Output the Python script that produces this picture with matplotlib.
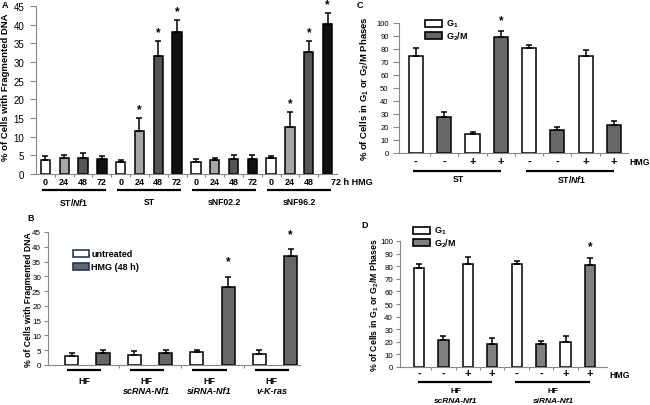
import numpy as np
import matplotlib
matplotlib.use("Agg")
import matplotlib.pyplot as plt
from matplotlib.patches import Rectangle

plt.rcParams["font.family"] = ["Liberation Sans", "DejaVu Sans"]
plt.rcParams["font.weight"] = "bold"
plt.rcParams["axes.labelweight"] = "bold"
plt.rcParams["mathtext.fontset"] = "custom"
plt.rcParams["mathtext.rm"] = "Liberation Sans:bold"
plt.rcParams["mathtext.it"] = "Liberation Sans:bold:italic"
plt.rcParams["mathtext.bf"] = "Liberation Sans:bold"

# ---- Panel A data ----
a_groups = ["ST/$\\mathit{Nf1}$", "ST", "sNF02.2", "sNF96.2"]
a_hours = ["0", "24", "48", "72"]
a_vals = [3.8, 4.3, 4.3, 3.9, 3.2, 11.4, 31.6, 38.1,
          3.2, 3.7, 3.9, 3.9, 4.2, 12.6, 32.8, 40.1]
a_errs = [1.0, 0.8, 1.3, 0.8, 0.5, 3.5, 4.0, 3.1,
          0.9, 0.6, 1.2, 1.2, 0.6, 3.9, 2.8, 2.9]
a_sig = [5, 6, 7, 13, 14, 15]

# ---- Panel B data ----
b_groups = [("HF", ""), ("HF", "scRNA-Nf1"), ("HF", "siRNA-Nf1"), ("HF", "v-K-ras")]
b_untreated = [3.1, 3.4, 4.3, 3.6]
b_untreated_err = [0.8, 1.4, 0.9, 1.5]
b_hmg = [4.0, 4.2, 26.4, 36.8]
b_hmg_err = [1.1, 0.9, 3.4, 2.3]
b_sig = [2, 3]

# ---- Panel C data ----
c_groups = ["ST", "ST/$\\mathit{Nf1}$"]
c_hmg = ["-", "-", "+", "+", "-", "-", "+", "+"]
c_vals = [74.9, 27.7, 14.6, 89.5, 80.5, 17.9, 74.4, 21.3]
c_errs = [6.1, 3.6, 1.3, 4.1, 2.6, 1.8, 5.1, 3.6]
c_sig = [3]

# ---- Panel D data ----
d_groups = [("HF", "scRNA-Nf1"), ("HF", "siRNA-Nf1")]
d_hmg = ["-", "-", "+", "+", "-", "-", "+", "+"]
d_vals = [78.7, 21.6, 82.1, 18.4, 82.1, 18.2, 19.5, 81.1]
d_errs = [2.9, 3.4, 5.0, 4.8, 2.4, 2.1, 5.0, 5.2]
d_sig = [7]

W, H = 650, 406
fig = plt.figure(figsize=(W / 100, H / 100), dpi=100)


def ax_at(x0, x1, ytop, ybot):
    return fig.add_axes([x0 / W, 1 - ybot / H, (x1 - x0) / W, (ybot - ytop) / H])


def fig_text(x, y, s, **kw):
    fig.text(x / W, 1 - y / H, s, **kw)


def fig_box(x, y, w, h, fc, ec):
    fig.patches.append(Rectangle((x / W, 1 - (y + h) / H), w / W, h / H,
                                 transform=fig.transFigure, fc=fc, ec=ec, lw=1.2))


def style(ax, ymax, ystep, ysize, ylen, ypad):
    for s in ["top", "right"]:
        ax.spines[s].set_visible(False)
    for s in ["left", "bottom"]:
        ax.spines[s].set_color("#888888")
        ax.spines[s].set_linewidth(0.8)
    ax.set_ylim(0, ymax)
    ax.set_yticks(np.arange(0, ymax + 1, ystep))
    ax.tick_params(axis="y", length=ylen, width=0.8, color="#888888", labelsize=ysize, pad=ypad)
    ax.tick_params(axis="x", which="major", length=0, pad=2)
    ax.tick_params(axis="x", which="minor", length=2.5, width=0.8, color="#888888")
    for lab in ax.get_yticklabels():
        lab.set_fontweight("normal")


def bars(ax, x, vals, errs, colors, width):
    ax.bar(x, vals, width, color=colors, edgecolor="black", linewidth=1.1, zorder=2)
    ax.errorbar(x, vals, yerr=[np.zeros(len(vals)), errs], fmt="none",
                ecolor="black", elinewidth=1.1, capsize=2.5, capthick=1.1, zorder=3)


def underline(ax, x0, x1, y):
    ax.plot([x0, x1], [y, y], color="black", lw=1.6, transform=ax.get_xaxis_transform(),
            clip_on=False, solid_capstyle="butt")


# ---------------- Panel A ----------------
axA = ax_at(36, 337, 7, 175)
xa = np.arange(len(a_vals))
a_colors = ["white", "#a6a6a6", "#555555", "#111111"] * 4
bars(axA, xa, a_vals, a_errs, a_colors, 0.5)
style(axA, 45, 5, 7, 4, 4.5)
axA.set_xlim(-0.5, 15.5)
axA.set_xticks(xa)
axA.set_xticklabels(a_hours * 3 + a_hours[:3] + [""], fontsize=6.5, fontweight="bold")
axA.set_xticks(np.arange(0.5, 15, 1), minor=True)
axA.text(15.2, -0.047, "72 h HMG", transform=axA.get_xaxis_transform(),
         ha="left", va="center", fontsize=6.5)
for i in a_sig:
    axA.text(i, a_vals[i] + a_errs[i] + 2.5, "*", ha="center", va="center", fontsize=8.5)
for g, name in enumerate(a_groups):
    underline(axA, 4 * g - 0.2, 4 * g + 3.2, -0.095)
    axA.text(4 * g + 1.5, -0.165, name, transform=axA.get_xaxis_transform(),
             ha="center", va="center", fontsize=6.2)
axA.set_ylabel("% of Cells with Fragmented DNA", fontsize=6.8)
axA.yaxis.set_label_coords(-0.088, 0.52)

# ---------------- Panel B ----------------
axB = ax_at(48, 300, 233, 366)
xb = np.arange(4) * 2
bars(axB, np.concatenate([xb, xb + 1]), b_untreated + b_hmg, b_untreated_err + b_hmg_err,
     ["white"] * 4 + ["#666666"] * 4, 0.42)
style(axB, 45, 5, 5.8, 3, 2)
axB.set_xlim(-0.76, 7.3)
axB.set_xticks([])
axB.set_xticks([1.5, 3.5, 5.5], minor=True)
for i in b_sig:
    axB.text(2 * i + 1, b_hmg[i] + b_hmg_err[i] + 5.2, "*", ha="center", va="center", fontsize=8.5)
for g, (l1, l2) in enumerate(b_groups):
    underline(axB, 2 * g - 0.15, 2 * g + 0.95, -0.035)
    axB.text(2 * g + 0.4, -0.118, l1, transform=axB.get_xaxis_transform(),
             ha="center", va="center", fontsize=6.5)
    if l2:
        axB.text(2 * g + 0.4, -0.195, l2, transform=axB.get_xaxis_transform(),
                 ha="center", va="center", fontsize=6.5, style="italic")
axB.set_ylabel("% of Cells with Fragmented DNA", fontsize=6.2)
axB.yaxis.set_label_coords(-0.06, 0.5)
fig_box(73, 251, 16, 7, "white", "#1f3864")
fig_box(73, 264, 16, 7, "#666666", "#1f3864")
fig_text(91, 254.5, "untreated", fontsize=6.5, va="center")
fig_text(91, 267.5, "HMG (48 h)", fontsize=6.5, va="center")

# ---------------- Panel C ----------------
axC = ax_at(399, 628, 24, 154)
xc = np.arange(8)
cd_colors = ["white", "#666666", "white", "#666666"] * 2
bars(axC, xc, c_vals, c_errs, cd_colors, 0.5)
style(axC, 100, 10, 5.5, 4, 3.5)
axC.set_xlim(-0.6, 7.5)
axC.set_xticks(xc)
axC.set_xticklabels(c_hmg, fontsize=8, fontweight="bold")
axC.set_xticks(np.arange(0.5, 7.5, 1), minor=True)
axC.text(7.55, -0.069, "HMG", transform=axC.get_xaxis_transform(),
         ha="left", va="center", fontsize=6.3)
for i in c_sig:
    axC.text(i, c_vals[i] + c_errs[i] + 8.5, "*", ha="center", va="center", fontsize=8.5)
for g, name in enumerate(c_groups):
    underline(axC, 4 * g - 0.1, 4 * g + 3.0, -0.14)
    axC.text(4 * g + 1.5, -0.2, name, transform=axC.get_xaxis_transform(),
             ha="center", va="center", fontsize=6.3)
axC.set_ylabel("% of Cells in G$_1$ or G$_2$/M Phases", fontsize=6.8)
axC.yaxis.set_label_coords(-0.122, 0.5)
fig_box(425, 21, 17, 7, "white", "black")
fig_box(425, 33, 17, 7, "#666666", "black")
fig_text(446, 24, "G$_1$", fontsize=6.5, va="center")
fig_text(446, 36.5, "G$_2$/M", fontsize=6.5, va="center")

# ---------------- Panel D ----------------
axD = ax_at(400, 607, 242, 368)
xd = np.arange(8)
dd_colors = ["white", "#808080", "white", "#808080"] * 2
bars(axD, xd, d_vals, d_errs, dd_colors, 0.42)
style(axD, 100, 10, 5.7, 3, 2)
axD.set_xlim(-0.78, 7.7)
axD.set_xticks(xd)
axD.set_xticklabels(d_hmg, fontsize=8, fontweight="bold")
axD.tick_params(axis="x", which="major", pad=0.5)
axD.set_xticks(np.arange(0.5, 7.5, 1), minor=True)
axD.text(7.8, -0.056, "HMG", transform=axD.get_xaxis_transform(),
         ha="left", va="center", fontsize=6.3)
for i in d_sig:
    axD.text(i, d_vals[i] + d_errs[i] + 10, "*", ha="center", va="center", fontsize=8.5)
for g, (l1, l2) in enumerate(d_groups):
    underline(axD, 4 * g - 0.05, 4 * g + 3.0, -0.122)
    axD.text(4 * g + 1.5, -0.19, l1, transform=axD.get_xaxis_transform(),
             ha="center", va="center", fontsize=6)
    axD.text(4 * g + 1.5, -0.265, l2, transform=axD.get_xaxis_transform(),
             ha="center", va="center", fontsize=6, style="italic")
axD.set_ylabel("% of Cells in G$_1$ or G$_2$/M Phases", fontsize=6.3)
axD.yaxis.set_label_coords(-0.092, 0.5)
fig_box(413, 228, 17, 7, "white", "black")
fig_box(413, 240, 17, 7, "#808080", "black")
fig_text(434, 231, "G$_1$", fontsize=6.5, va="center")
fig_text(434, 243.5, "G$_2$/M", fontsize=6.5, va="center")

# panel letters
fig_text(2, 5, "A", fontsize=6.5, va="center")
fig_text(27, 219, "B", fontsize=6.5, va="center")
fig_text(357, 5, "C", fontsize=6.5, va="center")
fig_text(361, 226, "D", fontsize=6.5, va="center")

fig.savefig("out.png", dpi=100)
